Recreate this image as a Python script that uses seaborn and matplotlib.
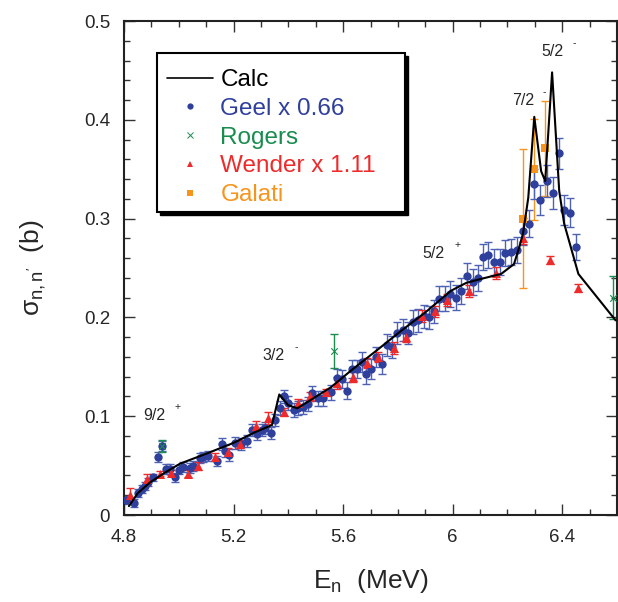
import matplotlib
matplotlib.use("Agg")
import matplotlib.pyplot as plt
import seaborn as sns
import pandas as pd
from matplotlib.lines import Line2D
from matplotlib.patches import Rectangle
from matplotlib.ticker import MultipleLocator, FixedLocator, FixedFormatter

# ---------------- data ----------------
calc_e = [4.818, 4.85, 4.895, 4.95, 5.005, 5.1, 5.2, 5.28, 5.34, 5.367, 5.40, 5.433,
          5.554, 5.628, 5.72, 5.81, 5.9, 5.994, 6.05, 6.104, 6.177, 6.224, 6.243,
          6.257, 6.276, 6.298, 6.323, 6.338, 6.363, 6.389, 6.407, 6.459, 6.595]
calc_s = [0.009, 0.022, 0.033, 0.043, 0.052, 0.062, 0.073, 0.084, 0.091, 0.122, 0.111, 0.108,
          0.129, 0.146, 0.166, 0.186, 0.205, 0.227, 0.235, 0.239, 0.244, 0.254, 0.271,
          0.285, 0.321, 0.403, 0.348, 0.338, 0.448, 0.328, 0.295, 0.244, 0.197]

geel_e = [4.807, 4.837, 4.851, 4.866, 4.877, 4.888, 4.906, 4.924, 4.939, 4.954, 4.968, 4.987,
          5.001, 5.016, 5.042, 5.053, 5.078, 5.089, 5.108, 5.14, 5.159, 5.17, 5.184, 5.206,
          5.228, 5.25, 5.269, 5.287, 5.305, 5.316, 5.335, 5.35, 5.368, 5.383, 5.40, 5.419,
          5.437, 5.455, 5.47, 5.488, 5.507, 5.525, 5.554, 5.576, 5.595, 5.613, 5.631, 5.649,
          5.668, 5.682, 5.70, 5.719, 5.741, 5.759, 5.778, 5.796, 5.818, 5.836, 5.855, 5.873,
          5.895, 5.913, 5.931, 5.95, 5.972, 5.99, 6.012, 6.03, 6.052, 6.074, 6.093, 6.111,
          6.129, 6.151, 6.173, 6.191, 6.213, 6.235, 6.257, 6.279, 6.298, 6.319, 6.345, 6.367,
          6.389, 6.407, 6.429, 6.451]
geel_s = [0.015, 0.012, 0.022, 0.026, 0.029, 0.033, 0.038, 0.059, 0.070, 0.047, 0.047, 0.038,
          0.046, 0.049, 0.048, 0.050, 0.058, 0.059, 0.060, 0.055, 0.072, 0.065, 0.061, 0.073,
          0.072, 0.075, 0.086, 0.082, 0.086, 0.088, 0.083, 0.096, 0.108, 0.120, 0.113, 0.106,
          0.108, 0.109, 0.112, 0.123, 0.118, 0.118, 0.124, 0.139, 0.138, 0.126, 0.148, 0.148,
          0.155, 0.143, 0.148, 0.160, 0.153, 0.172, 0.170, 0.184, 0.187, 0.184, 0.195, 0.197,
          0.201, 0.200, 0.206, 0.219, 0.219, 0.224, 0.220, 0.227, 0.242, 0.236, 0.240, 0.261,
          0.263, 0.256, 0.256, 0.265, 0.266, 0.268, 0.287, 0.295, 0.335, 0.319, 0.338, 0.326,
          0.366, 0.309, 0.306, 0.271]
geel_err = [0.004, 0.004, 0.004, 0.004, 0.004, 0.004, 0.004, 0.005, 0.005, 0.005, 0.005, 0.005,
            0.005, 0.005, 0.005, 0.005, 0.005, 0.005, 0.005, 0.005, 0.006, 0.006, 0.006, 0.006,
            0.006, 0.006, 0.006, 0.006, 0.006, 0.006, 0.006, 0.006, 0.007, 0.007, 0.007, 0.007,
            0.007, 0.007, 0.007, 0.008, 0.008, 0.008, 0.008, 0.009, 0.009, 0.009, 0.009, 0.009,
            0.010, 0.010, 0.010, 0.010, 0.010, 0.011, 0.011, 0.011, 0.011, 0.011, 0.012, 0.012,
            0.012, 0.012, 0.012, 0.013, 0.013, 0.013, 0.013, 0.013, 0.013, 0.013, 0.013, 0.013,
            0.013, 0.013, 0.013, 0.013, 0.013, 0.013, 0.014, 0.014, 0.015, 0.015, 0.016, 0.016,
            0.016, 0.015, 0.015, 0.013]

wender_e = [4.822, 4.884, 4.932, 4.972, 5.034, 5.071, 5.133, 5.181, 5.225, 5.283, 5.324, 5.383,
            5.437, 5.478, 5.536, 5.578, 5.635, 5.686, 5.726, 5.785, 5.829, 5.888, 5.935, 5.979,
            6.06, 6.157, 6.257, 6.356, 6.459]
wender_s = [0.020, 0.036, 0.042, 0.043, 0.042, 0.050, 0.059, 0.064, 0.072, 0.090, 0.098, 0.104,
            0.113, 0.120, 0.124, 0.134, 0.140, 0.154, 0.160, 0.169, 0.180, 0.201, 0.206, 0.218,
            0.227, 0.245, 0.280, 0.258, 0.230]
wender_err = [0.007, 0.006, 0.003, 0.003, 0.004, 0.004, 0.004, 0.004, 0.004, 0.005, 0.006, 0.004,
              0.004, 0.005, 0.004, 0.006, 0.005, 0.005, 0.005, 0.006, 0.005, 0.006, 0.006, 0.006,
              0.006, 0.006, 0.006, 0.004, 0.004]

rogers_e = [4.937, 5.566, 6.587]
rogers_s = [0.070, 0.166, 0.220]
rogers_err = [0.006, 0.017, 0.022]

galati_e = [6.257, 6.298, 6.338]
galati_s = [0.300, 0.350, 0.371]
galati_err = [0.070, 0.051, 0.048]

x_ticks = [4.8, 5.2, 5.6, 6.0, 6.4]
x_ticklabels = ["4.8", "5.2", "5.6", "6", "6.4"]
y_ticks = [0, 0.1, 0.2, 0.3, 0.4, 0.5]
y_ticklabels = ["0", "0.1", "0.2", "0.3", "0.4", "0.5"]

# (text, E, sigma, sign, sign E, sign sigma)
state_labels = [("9/2", 4.912, 0.101, "+", 4.994, 0.109),
                ("3/2", 5.347, 0.161, "-", 5.430, 0.170),
                ("5/2", 5.931, 0.265, "+", 6.016, 0.273),
                ("7/2", 6.257, 0.420, "-", 6.334, 0.428),
                ("5/2", 6.364, 0.469, "-", 6.444, 0.478)]

series_names = ["Calc", "Geel x 0.66", "Rogers", "Wender x 1.11", "Galati"]

# ---------------- style ----------------
BLUE = "#2f3f9c"
BLUE_ERR = "#4d62b3"
GREEN = "#1a8c4e"
RED = "#ee2a2a"
ORANGE = "#f7941d"

sns.set_style("ticks")
plt.rcParams['font.family'] = ['Liberation Sans', 'DejaVu Sans']
plt.rcParams['mathtext.fontset'] = 'custom'
plt.rcParams['mathtext.rm'] = 'Liberation Sans'
plt.rcParams['mathtext.it'] = 'Liberation Sans:italic'
plt.rcParams['mathtext.sf'] = 'Liberation Sans'

fig = plt.figure(figsize=(6.18, 6.02), dpi=100)
ax = fig.add_axes([124 / 618, 87 / 602, 493 / 618, 494 / 602])

calc_df = pd.DataFrame({"E": calc_e, "sigma": calc_s})
geel_df = pd.DataFrame({"E": geel_e, "sigma": geel_s})
wender_df = pd.DataFrame({"E": wender_e, "sigma": wender_s})
rogers_df = pd.DataFrame({"E": rogers_e, "sigma": rogers_s})
galati_df = pd.DataFrame({"E": galati_e, "sigma": galati_s})

# error bars
ax.errorbar(galati_e, galati_s, yerr=galati_err, fmt='none', ecolor=ORANGE,
            elinewidth=1.0, capsize=3, capthick=1.0, zorder=2)
ax.errorbar(geel_e, geel_s, yerr=geel_err, fmt='none', ecolor=BLUE_ERR,
            elinewidth=1.0, capsize=3, capthick=1.0, zorder=2)
ax.errorbar(wender_e, wender_s, yerr=wender_err, fmt='none', ecolor=RED,
            elinewidth=1.0, capsize=3, capthick=1.0, zorder=2)
ax.errorbar(rogers_e, rogers_s, yerr=rogers_err, fmt='none', ecolor=GREEN,
            elinewidth=1.0, capsize=3, capthick=1.0, zorder=2)

sns.scatterplot(data=geel_df, x="E", y="sigma", marker='o', s=36, color=BLUE,
                linewidth=0, ax=ax, legend=False, zorder=3)
sns.scatterplot(data=wender_df, x="E", y="sigma", marker='^', s=42, color=RED,
                linewidth=0, ax=ax, legend=False, zorder=3)
sns.scatterplot(data=galati_df, x="E", y="sigma", marker='s', s=40, color=ORANGE,
                linewidth=0, ax=ax, legend=False, zorder=3)
sns.scatterplot(data=rogers_df, x="E", y="sigma", marker='x', s=22, color=GREEN,
                linewidth=0.8, ax=ax, legend=False, zorder=3)
sns.lineplot(data=calc_df, x="E", y="sigma", color='black', linewidth=1.5,
             ax=ax, legend=False, zorder=4, sort=False)

ax.set_xlim(4.8, 6.6)
ax.set_ylim(0, 0.5)
ax.xaxis.set_major_locator(FixedLocator(x_ticks))
ax.xaxis.set_major_formatter(FixedFormatter(x_ticklabels))
ax.yaxis.set_major_locator(FixedLocator(y_ticks))
ax.yaxis.set_major_formatter(FixedFormatter(y_ticklabels))
ax.xaxis.set_minor_locator(MultipleLocator(0.1))
ax.yaxis.set_minor_locator(MultipleLocator(0.02))
ax.tick_params(which='both', direction='in', top=True, right=True, width=1.0,
               labelsize=13.5, color='#333333')
ax.tick_params(which='major', length=8, pad=10)
ax.tick_params(which='minor', length=4)
for sp in ax.spines.values():
    sp.set_linewidth(1.5)
    sp.set_color('#222222')

ax.set_xlabel(r"E$_{\rm n}$  (MeV)", fontsize=19, labelpad=15)
ax.set_ylabel("\u03c3" + r"$_{\rm n,n'}$  (b)", fontsize=19, labelpad=26)

for txt, ex, sy, sign, sx, ssy in state_labels:
    ax.text(ex, sy, txt, fontsize=11.5, ha='center', va='center', zorder=5)
    ax.text(sx, ssy, sign, fontsize=7.5, ha='center', va='center', zorder=5)

# legend box with shadow
x0, x1 = 33 / 493, 281 / 493
y0, y1 = (515 - 212) / 494, (515 - 53) / 494
dx, dy = 3 / 493, 3 / 494
ax.add_patch(Rectangle((x0 + dx, y0 - dy), x1 - x0, y1 - y0, transform=ax.transAxes,
                       facecolor='black', edgecolor='black', zorder=6))
ax.add_patch(Rectangle((x0, y0), x1 - x0, y1 - y0, transform=ax.transAxes,
                       facecolor='white', edgecolor='black', linewidth=1.5, zorder=7))

handles = [Line2D([], [], color='black', lw=1.2),
           Line2D([], [], marker='o', ls='', color=BLUE, ms=4.5, mew=0),
           Line2D([], [], marker='x', ls='', color=GREEN, ms=4.5, mew=0.7),
           Line2D([], [], marker='^', ls='', color=RED, ms=5, mew=0),
           Line2D([], [], marker='s', ls='', color=ORANGE, ms=5, mew=0)]
leg = ax.legend(handles, series_names, loc='upper left',
                bbox_to_anchor=((167 - 124) / 493, (515 - 69) / 494),
                frameon=False, fontsize=17.5, handlelength=1.9, handletextpad=0.3,
                labelspacing=0.28, borderpad=0, borderaxespad=0,
                labelcolor=['black', BLUE, GREEN, RED, ORANGE])
leg.set_zorder(8)

fig.savefig("out.png", dpi=100)
